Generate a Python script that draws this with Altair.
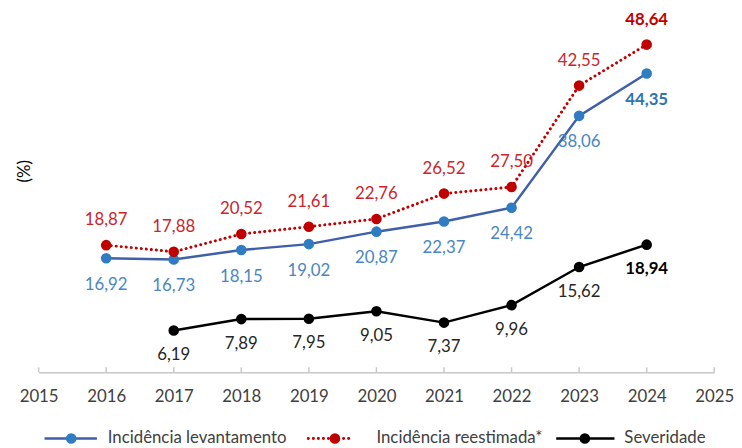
import altair as alt
import pandas as pd

years = [2016, 2017, 2018, 2019, 2020, 2021, 2022, 2023, 2024]
levantamento = [16.92, 16.73, 18.15, 19.02, 20.87, 22.37, 24.42, 38.06, 44.35]
reestimada = [18.87, 17.88, 20.52, 21.61, 22.76, 26.52, 27.50, 42.55, 48.64]
sev_years = [2017, 2018, 2019, 2020, 2021, 2022, 2023, 2024]
severidade = [6.19, 7.89, 7.95, 9.05, 7.37, 9.96, 15.62, 18.94]
tick_years = list(range(2015, 2026))
series_names = ["Incidência levantamento", "Incidência reestimada*", "Severidade"]

W, H = 684, 341
FONT = "Lato"
FS = 17

def fmt(v):
    return f"{v:.2f}".replace(".", ",")

def frame(xs, ys):
    d = pd.DataFrame({"year": xs, "v": ys})
    d["label"] = [fmt(v) for v in ys]
    d["last"] = [i == len(xs) - 1 for i in range(len(xs))]
    return d

d_lev = frame(years, levantamento)
d_rees = frame(years, reestimada)
d_sev = frame(sev_years, severidade)
d_ticks = pd.DataFrame({"year": tick_years})

xs = alt.Scale(domain=[2015, 2025], nice=False)
ys = alt.Scale(domain=[0, 50], nice=False)

X = alt.X("year:Q", scale=xs, axis=alt.Axis(values=tick_years, format="d", ticks=False,
          grid=False, domainColor="#c8c8c8", domainWidth=1.5, labelPadding=17,
          labelFlush=False, labelOverlap=False, labelBound=False,
          labelFontSize=FS, labelColor="#404040", labelFont=FONT, title=None))
X_plain = alt.X("year:Q", scale=xs)
Y = alt.Y("v:Q", scale=ys, axis=alt.Axis(labels=False, ticks=False, domain=False, grid=False,
          title="(%)", titleAngle=270, titleX=-14, titleY=137, titleFontSize=FS,
          titleFontWeight="normal", titleColor="#000000", titleFont=FONT,
          titleAlign="center", titleBaseline="middle"))
Y_plain = alt.Y("v:Q", scale=ys)

layers = []

def series(d, line_color, pt_color, lab_color, bold_color, dy, dash=None, first=False, width=2.5):
    out = []
    kw = dict(color=line_color, strokeWidth=width)
    if dash:
        kw.update(strokeDash=dash, strokeCap="round", strokeWidth=3)
    out.append(alt.Chart(d).mark_line(**kw).encode(x=X if first else X_plain, y=Y if first else Y_plain))
    out.append(alt.Chart(d).mark_circle(color=pt_color, size=115, opacity=1).encode(x=X_plain, y=Y_plain))
    out.append(alt.Chart(d).transform_filter("!datum.last").mark_text(
        font=FONT, fontSize=FS, color=lab_color, dy=dy, baseline="middle").encode(
        x=X_plain, y=Y_plain, text="label:N"))
    out.append(alt.Chart(d).transform_filter("datum.last").mark_text(
        font=FONT, fontSize=FS, fontWeight="bold", color=bold_color, dy=dy, baseline="middle").encode(
        x=X_plain, y=Y_plain, text="label:N"))
    return out

layers += series(d_lev, "#3f5fa8", "#2f7cc2", "#4a86c0", "#2f72b5", 27, first=True)
layers += series(d_rees, "#c00000", "#c00000", "#c8262c", "#c00000", -25, dash=[0.1, 5])
layers += series(d_sev, "#000000", "#000000", "#262626", "#000000", 25)

ticks = alt.Chart(d_ticks).mark_rule(color="#c8c8c8", strokeWidth=1.5).encode(
    x=X_plain, y=alt.value(H), y2=alt.value(H - 5))
layers.append(ticks)

# legend
LY = 408
leg = [
    (series_names[0], 6, 59, 33, 70, "#3f5fa8", "#2f7cc2", None),
    (series_names[1], 273, 314, 300, 342, "#c00000", "#c00000", [0.1, 5]),
    (series_names[2], 524, 583, 553, 593, "#000000", "#000000", None),
]
d_leg = pd.DataFrame({"name": series_names})
for name, x1, x2, cx, tx, lc, pc, dash in leg:
    dd = d_leg[d_leg["name"] == name]
    kw = dict(color=lc, strokeWidth=2.5)
    if dash:
        kw.update(strokeDash=dash, strokeCap="round", strokeWidth=3)
    layers.append(alt.Chart(dd).mark_rule(**kw).encode(
        x=alt.value(x1), x2=alt.value(x2), y=alt.value(LY)))
    layers.append(alt.Chart(dd).mark_circle(color=pc, size=115, opacity=1).encode(
        x=alt.value(cx), y=alt.value(LY)))
    layers.append(alt.Chart(dd).mark_text(font=FONT, fontSize=FS, color="#404040",
        align="left", baseline="middle").encode(
        x=alt.value(tx), y=alt.value(LY), text="name:N"))

chart = alt.layer(*layers).properties(
    width=W, height=H,
    autosize=alt.AutoSizeParams(type="none"),
    padding={"left": 31, "top": 25, "right": 20, "bottom": 80},
).configure(background="white").configure_view(stroke=None)

chart.save("out.html", embed_options={"renderer": "svg", "actions": False})
